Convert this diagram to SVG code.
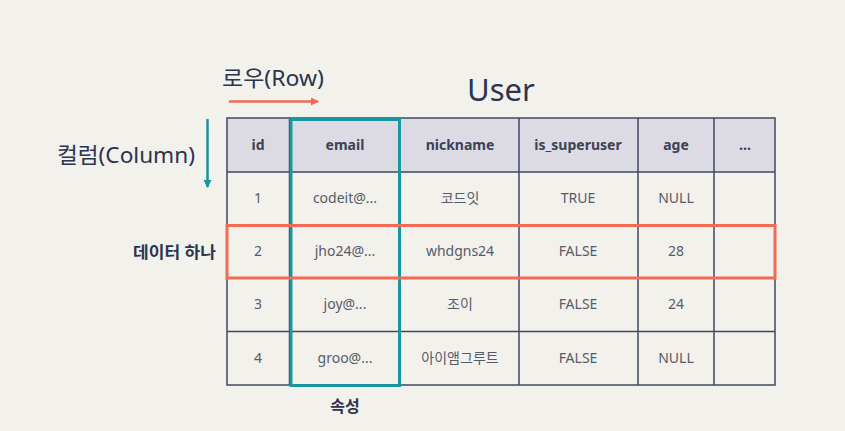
<svg xmlns="http://www.w3.org/2000/svg" width="845" height="431" viewBox="0 0 845 431">
<style>
.t{font-family:"Noto Sans","Noto Sans CJK KR",sans-serif;fill:#2b3450}
.h{font-family:"Noto Sans","Noto Sans CJK KR",sans-serif;font-size:14px;font-weight:bold;fill:#3a4258;text-anchor:middle}
.c{font-family:"Noto Sans","Noto Sans CJK KR",sans-serif;font-size:14px;fill:#565b6b;text-anchor:middle}
.g{stroke:#3f4862;stroke-width:1.5;fill:none}
</style>
<defs>
<marker id="ar" markerWidth="8" markerHeight="8" refX="7" refY="4" orient="auto" markerUnits="userSpaceOnUse"><path d="M0,0 L8,4 L0,8 z" fill="#f06a55"/></marker>
<marker id="at" markerWidth="8" markerHeight="8" refX="7" refY="4" orient="auto" markerUnits="userSpaceOnUse"><path d="M0,0 L8,4 L0,8 z" fill="#17959b"/></marker>
</defs>
<rect width="845" height="431" fill="#f2f1eb"/>
<g id="title"><text class="t" x="501" y="101" font-size="31" text-anchor="middle">User</text></g>
<g id="row-label"><text class="t" x="222" y="86" font-size="22" textLength="102" lengthAdjust="spacingAndGlyphs">로우(Row)</text></g>
<g id="column-label"><text class="t" x="57" y="163" font-size="22" textLength="138" lengthAdjust="spacingAndGlyphs">컬럼(Column)</text></g>
<g id="record-label"><text class="t" x="216" y="258" font-size="16" font-weight="bold" text-anchor="end" textLength="83" lengthAdjust="spacingAndGlyphs">데이터 하나</text></g>
<g id="attr-label"><text class="t" x="345" y="412" font-size="16" font-weight="bold" text-anchor="middle">속성</text></g>
<g id="table">
<rect x="227" y="118" width="548" height="54" fill="#dcdae3"/>
<rect x="227" y="118" width="548" height="267" class="g"/>
<path class="g" d="M227,172H775M227,225H775M227,278H775M227,331.5H775M289.5,118V385M400,118V385M519,118V385M638,118V385M714,118V385"/>
<text class="h" x="258" y="150">id</text>
<text class="h" x="345" y="150">email</text>
<text class="h" x="460" y="150">nickname</text>
<text class="h" x="578" y="150">is_superuser</text>
<text class="h" x="676" y="150">age</text>
<text class="h" x="745" y="150">...</text>
<text class="c" x="258" y="203">1</text>
<text class="c" x="345" y="203">codeit@...</text>
<text class="c" x="460" y="203">코드잇</text>
<text class="c" x="578" y="203">TRUE</text>
<text class="c" x="676" y="203">NULL</text>
<text class="c" x="258" y="256">2</text>
<text class="c" x="345" y="256">jho24@...</text>
<text class="c" x="460" y="256">whdgns24</text>
<text class="c" x="578" y="256">FALSE</text>
<text class="c" x="676" y="256">28</text>
<text class="c" x="258" y="309">3</text>
<text class="c" x="345" y="309">joy@...</text>
<text class="c" x="460" y="309">조이</text>
<text class="c" x="578" y="309">FALSE</text>
<text class="c" x="676" y="309">24</text>
<text class="c" x="258" y="363">4</text>
<text class="c" x="345" y="363">groo@...</text>
<text class="c" x="460" y="363">아이앰그루트</text>
<text class="c" x="578" y="363">FALSE</text>
<text class="c" x="676" y="363">NULL</text>
</g>
<g id="highlight-column"><rect x="291" y="119.5" width="108.5" height="266" fill="none" stroke="#17989e" stroke-width="3"/></g>
<g id="highlight-row"><rect x="227" y="225.5" width="548" height="52.5" fill="none" stroke="#f26b55" stroke-width="3"/></g>
<g id="connectors">
<line x1="229" y1="101.5" x2="318" y2="101.5" stroke="#f06a55" stroke-width="2.5" marker-end="url(#ar)"/>
<line x1="207.5" y1="119" x2="207.5" y2="187" stroke="#17959b" stroke-width="2.5" marker-end="url(#at)"/>
</g>
</svg>
